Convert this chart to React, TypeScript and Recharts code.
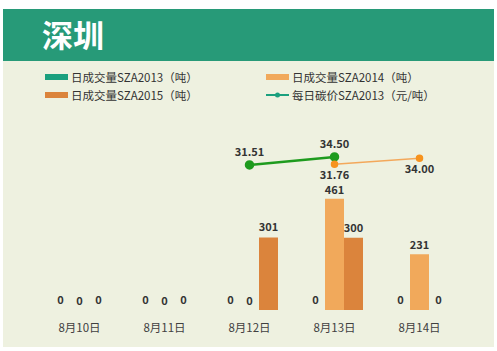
import React from 'react';
import { ComposedChart, Bar, Line, XAxis, YAxis, LabelList } from 'recharts';

const COLORS = {
  HEADER: '#279a78',
  PANEL: '#eef1e0',
  SZA2013: '#1aa07e',
  SZA2014: '#f1a95b',
  SZA2015: '#db843c',
  PRICE2013: '#1e9b1e',
  PRICE2014: '#f3a85b',
  PRICE2014_DOT: '#f7931e',
  TEXT: '#333333',
};

const FONT = '"Noto Sans CJK SC", "Microsoft YaHei", sans-serif';

// 日期
const days = ['8月10日', '8月11日', '8月12日', '8月13日', '8月14日'];
// 日成交量（吨）
const volume2013 = [0, 0, 0, 0, 0];
const volume2014 = [0, 0, 0, 461, 231];
const volume2015 = [0, 0, 301, 300, 0];
// 每日碳价（元/吨）
const price2013 = [null, null, 31.51, 34.5, null];
const price2014 = [null, null, null, 31.76, 34.0];

const data = days.map((day, i) => ({
  day,
  v2013: volume2013[i],
  v2014: volume2014[i],
  v2015: volume2015[i],
  p2013: price2013[i],
  p2014: price2014[i],
}));

const labelStyle = { fontSize: 11, fontWeight: 700, fill: COLORS.TEXT, fontFamily: FONT };
const fmtPrice = (v: any) => (v == null ? '' : Number(v).toFixed(2));

const LegendItem = ({ color, text, line }: { color: string; text: string; line?: boolean }) => (
  <div style={{ display: 'flex', alignItems: 'center', height: 18 }}>
    {line ? (
      <svg width={23} height={8} style={{ marginRight: 3 }}>
        <line x1={0} y1={4} x2={23} y2={4} stroke={color} strokeWidth={2} />
        <circle cx={11.5} cy={4} r={2.5} fill={color} />
      </svg>
    ) : (
      <div style={{ width: 23, height: 6, background: color, marginRight: 3 }} />
    )}
    <span style={{ fontSize: 11.5, color: COLORS.TEXT }}>{text}</span>
  </div>
);

export default function App() {
  return (
    <div style={{ position: 'absolute', left: 0, top: 0, width: 497, height: 351, background: '#fff', fontFamily: FONT }}>
      <div style={{ position: 'absolute', left: 3, top: 9, width: 491, height: 338, background: COLORS.PANEL }}>
        <div style={{ height: 52, background: COLORS.HEADER, color: '#fff', fontSize: 31, fontWeight: 700, paddingLeft: 39, lineHeight: '50px' }}>
          深圳
        </div>
      </div>

      <div style={{ position: 'absolute', left: 45, top: 68 }}>
        <LegendItem color={COLORS.SZA2013} text="日成交量SZA2013（吨）" />
        <LegendItem color={COLORS.SZA2015} text="日成交量SZA2015（吨）" />
      </div>
      <div style={{ position: 'absolute', left: 266, top: 68 }}>
        <LegendItem color={COLORS.SZA2014} text="日成交量SZA2014（吨）" />
        <LegendItem color={COLORS.SZA2013} text="每日碳价SZA2013（元/吨）" line />
      </div>

      <div style={{ position: 'absolute', left: 0, top: 0 }}>
        <ComposedChart
          width={497}
          height={351}
          data={data}
          margin={{ top: 117, right: 35, left: 37, bottom: 11 }}
          barSize={19}
          barGap={0}
        >
          <XAxis
            dataKey="day"
            axisLine={false}
            tickLine={false}
            tickMargin={8}
            tick={{ fontSize: 11.5, fill: '#404040', fontFamily: FONT }}
            interval={0}
          />
          <YAxis yAxisId="left" hide domain={[0, 800]} />
          <YAxis yAxisId="right" orientation="right" hide domain={[-22.7, 49.4]} />

          <Bar yAxisId="left" dataKey="v2013" fill={COLORS.SZA2013} minPointSize={0.01} isAnimationActive={false}>
            <LabelList dataKey="v2013" position="top" offset={6} style={labelStyle} />
          </Bar>
          <Bar yAxisId="left" dataKey="v2014" fill={COLORS.SZA2014} minPointSize={0.01} isAnimationActive={false}>
            <LabelList dataKey="v2014" position="top" offset={5} style={labelStyle} />
          </Bar>
          <Bar yAxisId="left" dataKey="v2015" fill={COLORS.SZA2015} minPointSize={0.01} isAnimationActive={false}>
            <LabelList dataKey="v2015" position="top" offset={6} style={labelStyle} />
          </Bar>

          <Line
            yAxisId="right"
            dataKey="p2013"
            stroke={COLORS.PRICE2013}
            strokeWidth={2.5}
            dot={{ r: 3.5, fill: COLORS.PRICE2013, stroke: COLORS.PRICE2013 }}
            isAnimationActive={false}
          >
            <LabelList dataKey="p2013" position="top" offset={9} style={labelStyle} formatter={fmtPrice} />
          </Line>
          <Line
            yAxisId="right"
            dataKey="p2014"
            stroke={COLORS.PRICE2014}
            strokeWidth={1.5}
            dot={{ r: 3, fill: COLORS.PRICE2014_DOT, stroke: COLORS.PRICE2014_DOT }}
            isAnimationActive={false}
          >
            <LabelList dataKey="p2014" position="bottom" offset={7} style={labelStyle} formatter={fmtPrice} />
          </Line>
        </ComposedChart>
      </div>
    </div>
  );
}
